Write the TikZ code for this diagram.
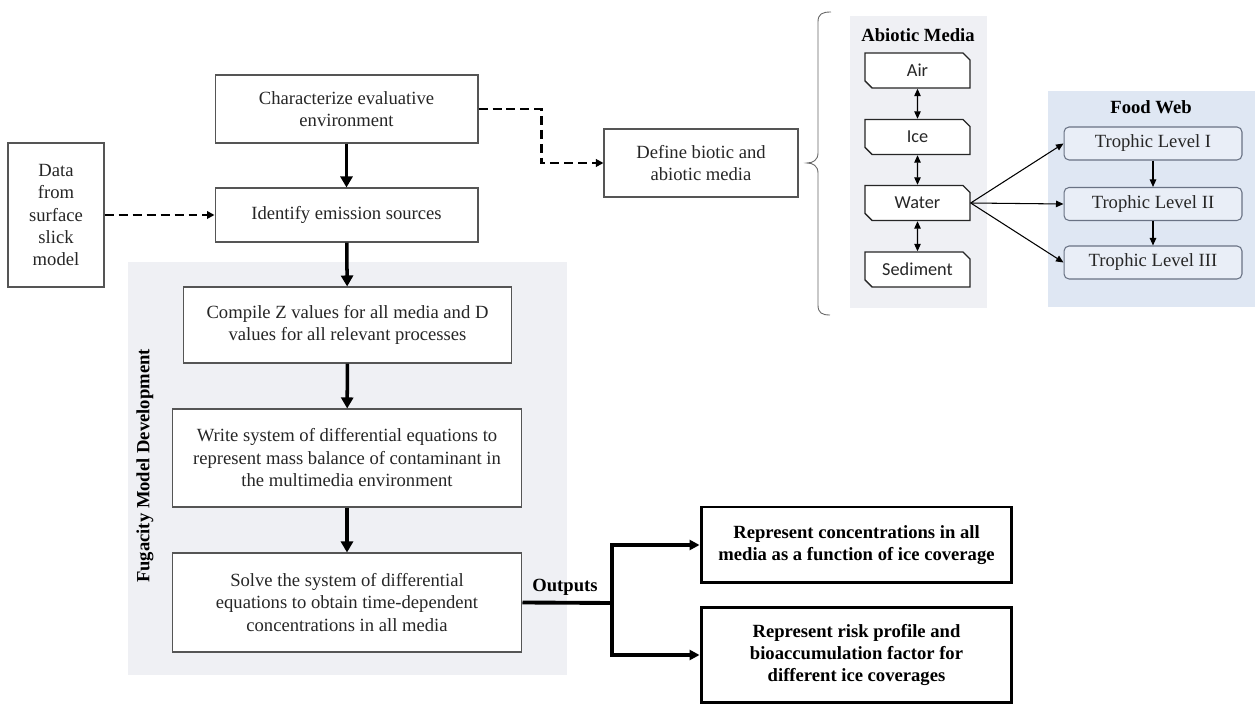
\documentclass[tikz,border=0pt]{standalone}
\usepackage{fontspec}
\setmainfont{Liberation Serif}
\newfontfamily\mediafont{Carlito}
\usepackage{tikz}
\usetikzlibrary{arrows.meta, positioning, calc, shapes.misc}

\definecolor{panelgray}{RGB}{239,240,244}
\definecolor{webblue}{RGB}{223,231,243}
\definecolor{boxline}{RGB}{85,85,85}
\definecolor{tropline}{RGB}{105,114,132}

\begin{document}
\begin{tikzpicture}[x=0.02cm, y=-0.02cm,
    every node/.style={font=\fontsize{10.6}{12.8}\selectfont, text=black!85},
    stepbox/.style={draw=boxline, line width=0.6pt, fill=white, align=center, inner sep=0pt},
    outbox/.style={draw=black, line width=1.7pt, fill=white, align=center, inner sep=0pt,
        font=\fontsize{10.6}{12.8}\selectfont\bfseries, text=black},
    mediabox/.style={chamfered rectangle, chamfered rectangle corners={north east, south west},
        chamfered rectangle xsep=0.07cm, chamfered rectangle ysep=0.07cm,
        draw=black!85, line width=0.8pt, fill=white, minimum width=2.1cm, minimum height=0.7cm,
        inner sep=0pt, font=\mediafont\fontsize{10.4}{12}\selectfont},
    tropbox/.style={draw=tropline, line width=0.6pt, fill=webblue!70!white, rounded corners=0.1cm,
        minimum width=3.56cm, minimum height=0.66cm, inner sep=0pt},
    title/.style={font=\fontsize{10.6}{12.8}\selectfont\bfseries, text=black},
    mainarrow/.style={-{Triangle[width=0.24cm,length=0.22cm]}, line width=2pt},
    dasharrow/.style={-{Triangle[width=0.15cm,length=0.15cm]}, line width=1.3pt, dash pattern=on 0.18cm off 0.1cm},
    thinarrow/.style={-{Triangle[width=0.13cm,length=0.15cm]}, line width=0.6pt},
    bothway/.style={{Triangle[width=0.13cm,length=0.15cm]}-{Triangle[width=0.13cm,length=0.15cm]}, line width=0.6pt},
    outarrow/.style={-{Triangle[width=0.2cm,length=0.2cm]}, line width=1.8pt}]
\useasboundingbox (0,0) rectangle (1255,705);

% Panels
\fill[panelgray] (128,262) rectangle (567,675);
\fill[panelgray] (850,16) rectangle (987,308);
\fill[webblue] (1048,91) rectangle (1255,307);

% Main steps
\node[stepbox, minimum width=5.26cm, minimum height=1.36cm] (char) at (346.5,109) {Characterize evaluative\\environment};
\node[stepbox, minimum width=5.26cm, minimum height=1.08cm] (ident) at (346.5,215) {Identify emission sources};
\node[stepbox, minimum width=1.92cm, minimum height=2.88cm] (data) at (56,215) {Data\\from\\surface\\slick\\model};
\node[stepbox, minimum width=3.88cm, minimum height=1.36cm] (define) at (701,163) {Define biotic and\\abiotic media};

% Fugacity model
\node[title, rotate=90] (fuglbl) at (145,466) {Fugacity Model Development};
\node[stepbox, minimum width=6.58cm, minimum height=1.52cm] (compile) at (347.5,325) {Compile Z values for all media and D\\values for all relevant processes};
\node[stepbox, minimum width=7cm, minimum height=1.96cm] (write) at (347,458) {Write system of differential equations to\\represent mass balance of contaminant in\\the multimedia environment};
\node[stepbox, minimum width=7cm, minimum height=1.98cm] (solve) at (347,602.5) {Solve the system of differential\\equations to obtain time-dependent\\concentrations in all media};

% Outputs
\node[title] (outlbl) at (565,587) {Outputs};
\coordinate (split) at (612,603);
\node[outbox, minimum width=6.22cm, minimum height=1.52cm] (out1) at (856.5,545) {Represent concentrations in all\\media as a function of ice coverage};
\node[outbox, minimum width=6.22cm, minimum height=1.92cm] (out2) at (856.5,655) {Represent risk profile and\\bioaccumulation factor for\\different ice coverages};

% Abiotic media
\node[title] (abtitle) at (918,35) {Abiotic Media};
\node[mediabox] (air) at (917.5,70.5) {Air};
\node[mediabox] (ice) at (917.5,137) {Ice};
\node[mediabox] (water) at (917.5,203) {Water};
\node[mediabox] (sed) at (917.5,269.5) {Sediment};

% Food web
\node[title] (webtitle) at (1151,107) {Food Web};
\node[tropbox] (tl1) at (1153,143.5) {Trophic Level I};
\node[tropbox] (tl2) at (1153,204) {Trophic Level II};
\node[tropbox] (tl3) at (1153,262.5) {Trophic Level III};

% Brace
\draw[black!60, line width=0.5pt] (831,12) .. controls (822,12) and (818,14) .. (818,22) -- (818,153)
    .. controls (818,160) and (813,163) .. (807,163) .. controls (813,163) and (818,166) .. (818,173)
    -- (818,305) .. controls (818,313) and (822,315) .. (830,315);

% Connectors
\draw[mainarrow] (char) -- (ident);
\draw[mainarrow] (ident) -- (compile);
\draw[mainarrow] (compile) -- (write);
\draw[mainarrow] (write) -- (solve);
\draw[dasharrow] (data) -- (ident);
\draw[dasharrow] (char.east) -- ++(63,0) |- (define.west);
\draw[line width=2.2pt] (solve.east) -- (split);
\draw[outarrow] (split) |- (out1.west);
\draw[outarrow] (split) |- (out2.west);
\draw[bothway] (air) -- (ice);
\draw[bothway] (ice) -- (water);
\draw[bothway] (water) -- (sed);
\foreach \t in {tl1,tl2,tl3}
    \draw[thinarrow] (water.east) -- (\t.west);
\draw[thinarrow] (tl1) -- (tl2);
\draw[thinarrow] (tl2) -- (tl3);
\end{tikzpicture}
\end{document}
